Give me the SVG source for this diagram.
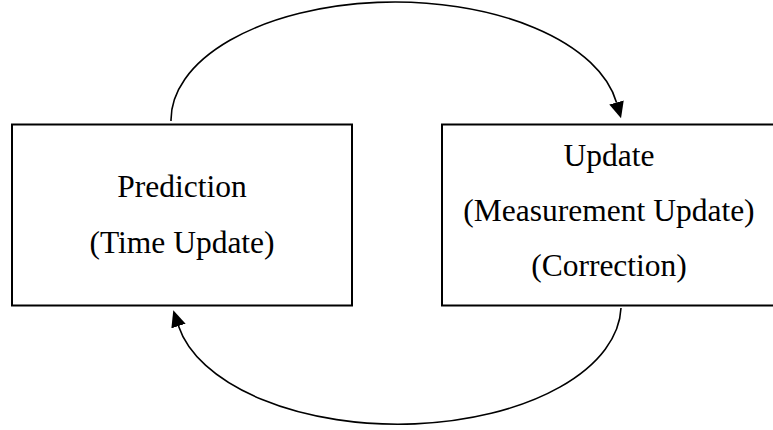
<svg xmlns="http://www.w3.org/2000/svg" width="773" height="430" viewBox="0 0 773 430">
  <style>
    .box { fill: #ffffff; stroke: #000000; stroke-width: 2; }
    .label { font-family: 'Liberation Serif', serif; font-size: 31.5px; fill: #000000; text-anchor: middle; }
    .flow { fill: none; stroke: #000000; stroke-width: 1.6; }
  </style>
  <defs>
    <marker id="arrowhead" markerUnits="userSpaceOnUse" markerWidth="18" markerHeight="18" refX="0" refY="8" orient="auto">
      <path d="M0,0.5 L16.5,8 L0,15.5 Z" fill="#000000"/>
    </marker>
  </defs>
  <rect width="773" height="430" fill="#ffffff"/>

  <g id="prediction">
    <rect class="box" x="12" y="124.5" width="340" height="181"/>
    <text class="label" font-family="Liberation Serif, serif" x="182" y="196.5">Prediction</text>
    <text class="label" font-family="Liberation Serif, serif" x="182" y="252.5">(Time Update)</text>
  </g>

  <g id="update">
    <rect class="box" x="442" y="124.5" width="334" height="181"/>
    <text class="label" font-family="Liberation Serif, serif" x="609" y="166">Update</text>
    <text class="label" font-family="Liberation Serif, serif" x="609" y="221">(Measurement Update)</text>
    <text class="label" font-family="Liberation Serif, serif" x="609" y="276">(Correction)</text>
  </g>

  <g id="connectors">
    <path class="flow" d="M171,121 A224,118 0 0 1 616.5,102.5" marker-end="url(#arrowhead)"/>
    <path class="flow" d="M621,308 A223,119 0 0 1 178.5,326" marker-end="url(#arrowhead)"/>
  </g>
</svg>
